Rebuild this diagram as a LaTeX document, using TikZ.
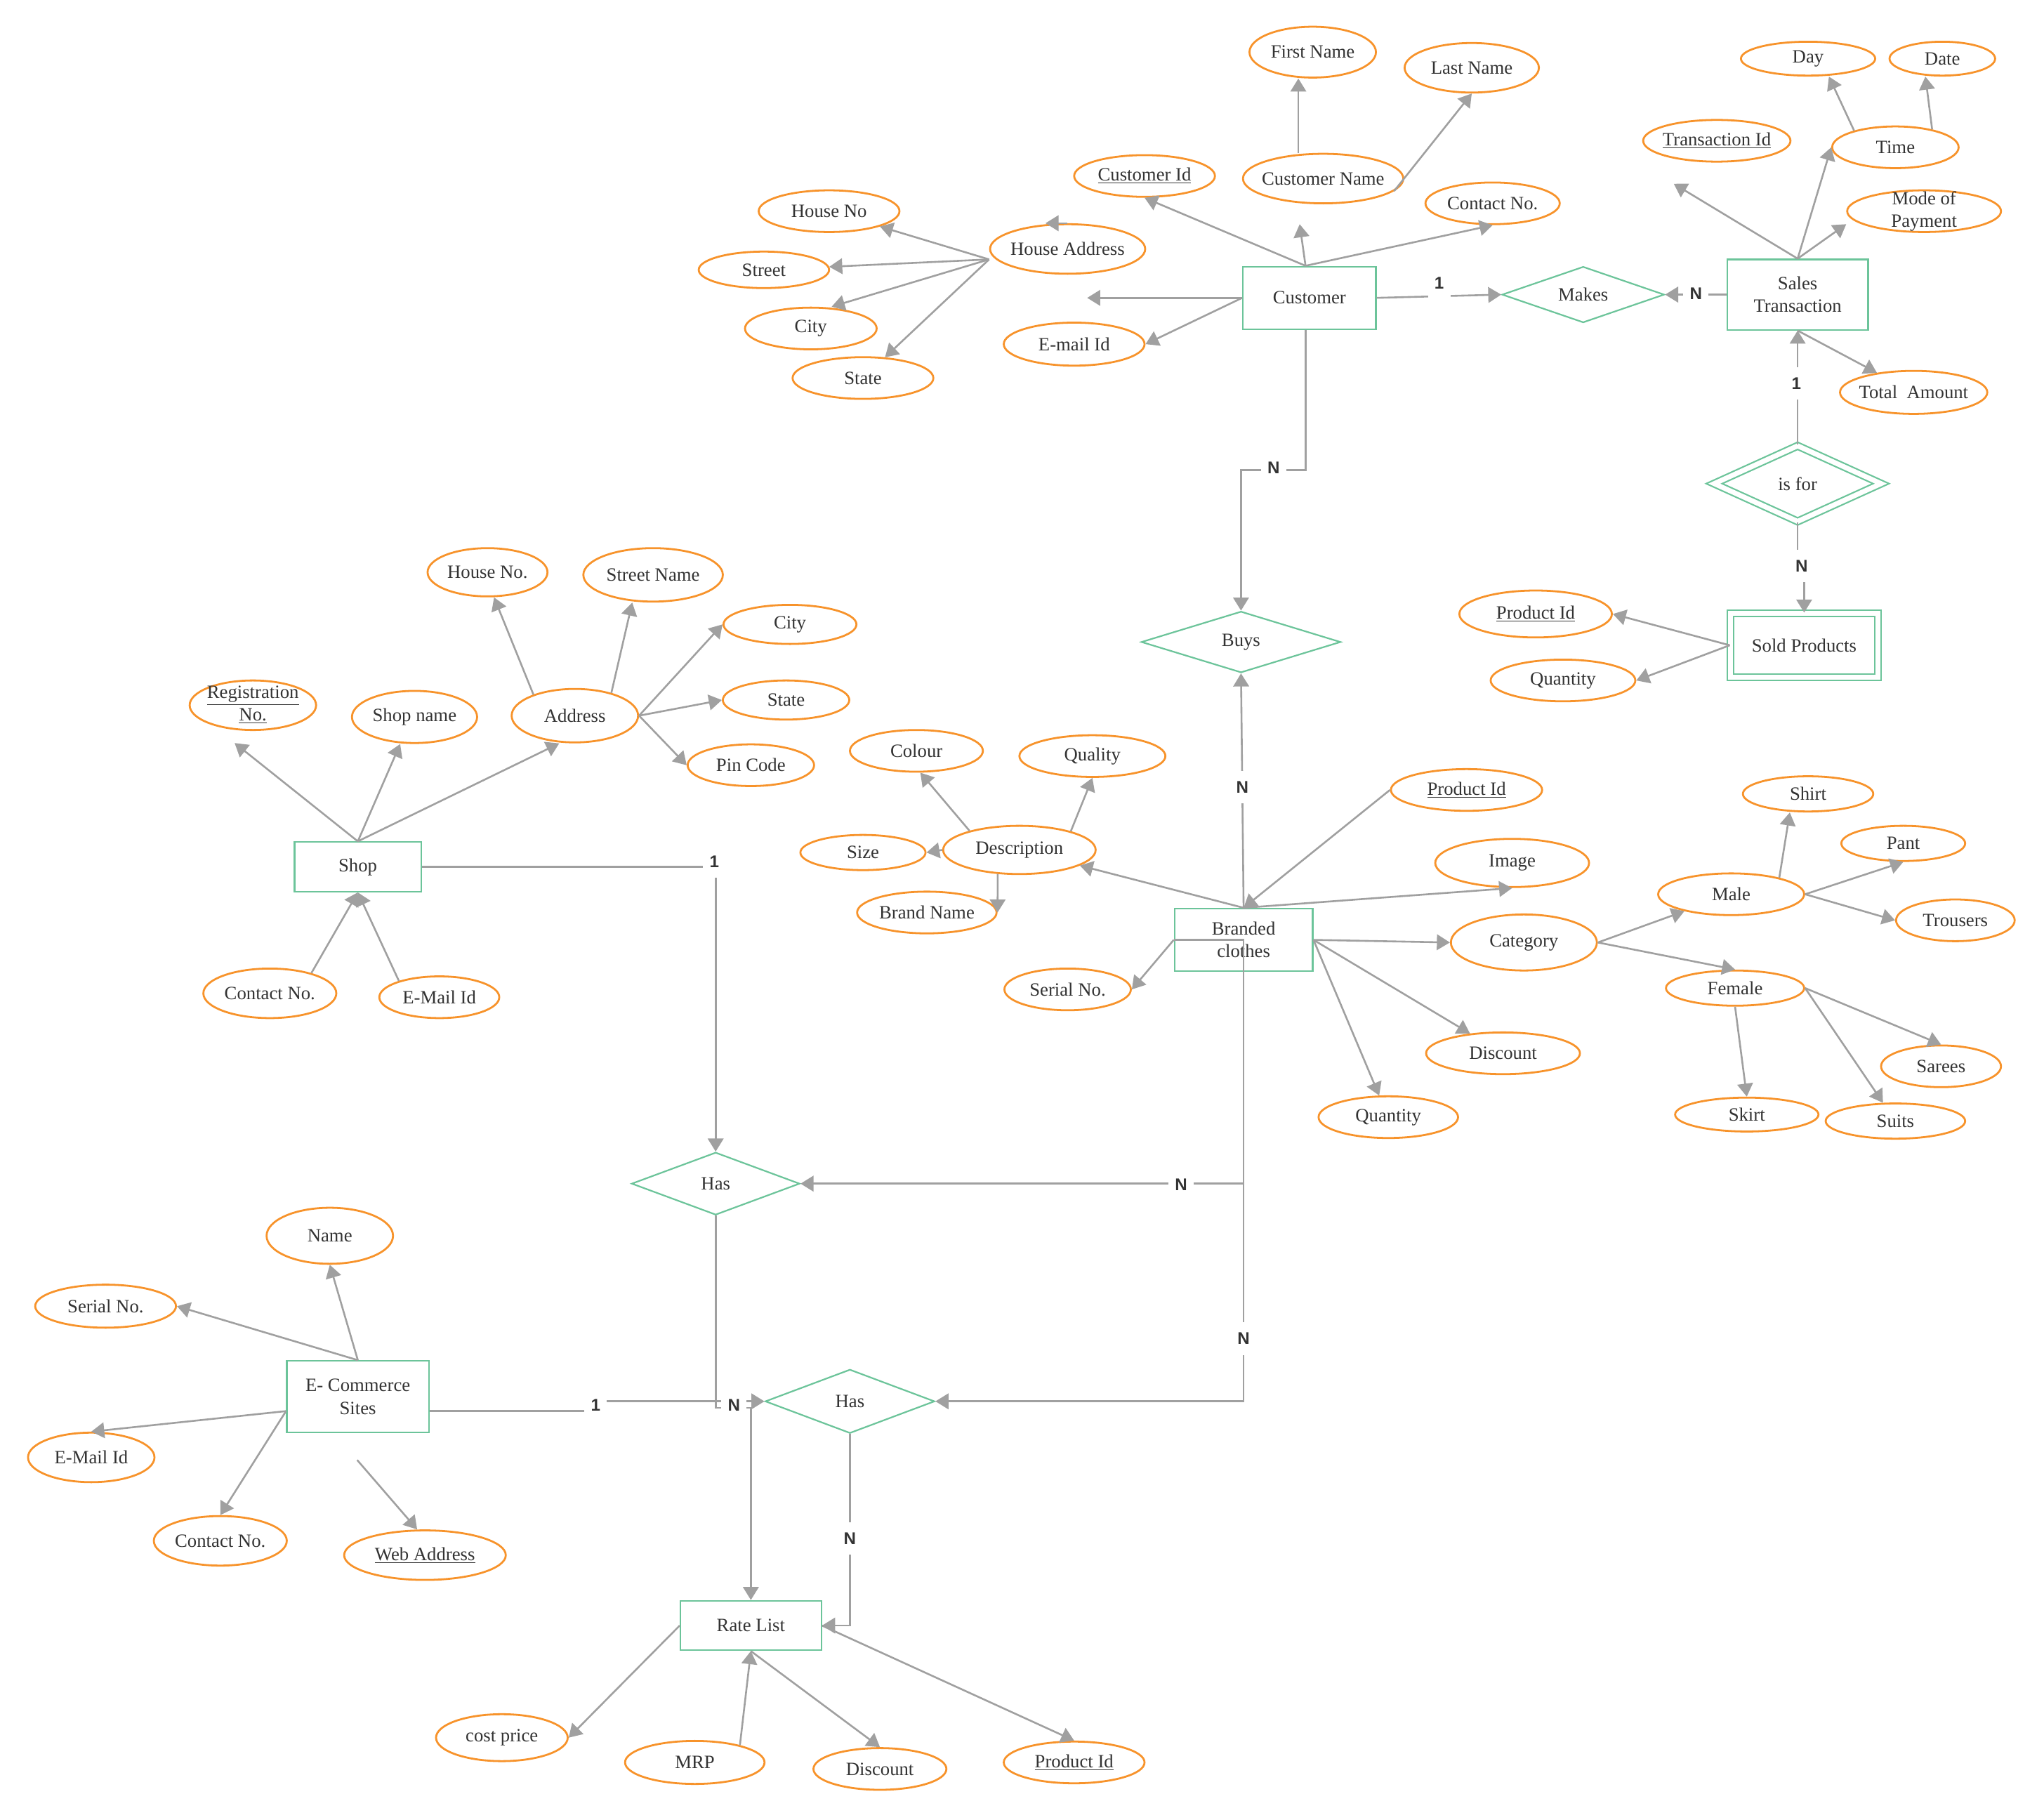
\documentclass[tikz,border=0pt]{standalone}
\usepackage{fontspec}
\setmainfont{Liberation Serif}
\setsansfont{Liberation Sans}
\usetikzlibrary{shapes.geometric,arrows.meta}

\definecolor{attrorange}{HTML}{F7932B}
\definecolor{entgreen}{HTML}{6CC49A}
\definecolor{linkgray}{HTML}{A0A0A0}
\definecolor{inkgray}{HTML}{333333}

% zero-size labels so that each shape keeps the size it is given
\newcommand\lb[1]{\makebox[0pt]{#1}}
\newcommand\lbb[2]{\smash{\raisebox{-3.6pt}{\makebox[0pt]{\begin{tabular}{@{}c@{}}#1\\#2\end{tabular}}}}}

\tikzset{
  txt/.style={text=inkgray, font=\fontsize{14.4}{17.3}\selectfont},
  attr/.style={txt, ellipse, draw=attrorange, line width=1.5pt, inner sep=0pt},
  ent/.style={txt, rectangle, draw=entgreen, line width=1.2pt, inner sep=0pt, align=center},
  rel/.style={txt, diamond, draw=entgreen, line width=1.2pt, inner sep=0pt},
  weak/.style={double=white, double distance=3.8pt},
  link/.style={draw=linkgray, line width=1.4pt, -{Triangle[length=10pt,width=12pt]}},
  card/.style={text=inkgray, fill=white, inner xsep=5pt, inner ysep=8pt,
               font=\sffamily\bfseries\fontsize{13}{13}\selectfont}
}

\begin{document}
\begin{tikzpicture}[x=1pt, y=-1pt]
\useasboundingbox (0,0) rectangle (1568,1396);

% ---------- Customer ----------
\node[ent, minimum width=102, minimum height=48] (cust) at (1004.5,228.5) {Customer};
\node[attr, minimum width=97, minimum height=39] (fname) at (1007,40) {\lb{First Name}};
\node[attr, minimum width=103, minimum height=38] (lname) at (1129,52) {\lb{Last Name}};
\node[attr, minimum width=123, minimum height=38] (cname) at (1015,137) {\lb{Customer Name}};
\node[attr, minimum width=108, minimum height=32] (cid) at (878,135) {\lb{\underline{Customer Id}}};
\node[attr, minimum width=103, minimum height=32] (ccontact) at (1145,156) {\lb{Contact No.}};
\node[attr, minimum width=119, minimum height=38] (haddr) at (819,191) {\lb{House Address}};
\node[attr, minimum width=108, minimum height=32] (hno) at (636,162) {\lb{House No}};
\node[attr, minimum width=100, minimum height=28] (street) at (586,207) {\lb{Street}};
\node[attr, minimum width=101, minimum height=32] (city) at (622,252) {\lb{City}};
\node[attr, minimum width=108, minimum height=32] (state) at (662,290) {\lb{State}};
\node[attr, minimum width=108, minimum height=33] (cmail) at (824,264) {\lb{E-mail Id}};

% ---------- Sales transaction ----------
\node[rel, minimum width=124.5, minimum height=43] (makes) at (1214.5,226) {\lb{Makes}};
\node[ent, minimum width=108, minimum height=54] (sales) at (1379,226) {Sales\\Transaction};
\node[attr, minimum width=113, minimum height=32] (tid) at (1317,108) {\lb{\underline{Transaction Id}}};
\node[attr, minimum width=97, minimum height=32] (time) at (1454,113) {\lb{Time}};
\node[attr, minimum width=103, minimum height=26] (day) at (1387,45) {\lb{Day}};
\node[attr, minimum width=81, minimum height=26] (date) at (1490,45) {\lb{Date}};
\node[attr, minimum width=118, minimum height=32] (mode) at (1476,162) {\lbb{Mode of}{Payment}};
\node[attr, minimum width=113, minimum height=33] (total) at (1468,301) {\lb{Total\ \ Amount}};
\node[rel, weak, minimum width=128.5, minimum height=58.5] (isfor) at (1379,371) {\lb{is for}};
\node[ent, weak, minimum width=113, minimum height=49] (sold) at (1384,495) {Sold Products};
\node[attr, minimum width=117, minimum height=36] (spid) at (1178,471) {\lb{\underline{Product Id}}};
\node[attr, minimum width=111, minimum height=32] (sqty) at (1199,522) {\lb{Quantity}};

% ---------- Branded clothes ----------
\node[rel, minimum width=153, minimum height=47] (buys) at (952,492.5) {\lb{Buys}};
\node[ent, minimum width=106, minimum height=48] (bc) at (954,721) {Branded\\clothes};
\node[attr, minimum width=117, minimum height=37] (desc) at (782,652) {\lb{Description}};
\node[attr, minimum width=102, minimum height=32] (colour) at (703,576) {\lb{Colour}};
\node[attr, minimum width=112, minimum height=32] (quality) at (838,580) {\lb{Quality}};
\node[attr, minimum width=96, minimum height=27] (size) at (662,654) {\lb{Size}};
\node[attr, minimum width=107, minimum height=32] (brand) at (711,700) {\lb{Brand Name}};
\node[attr, minimum width=97, minimum height=32] (serial) at (819,759) {\lb{Serial No.}};
\node[attr, minimum width=116, minimum height=32] (bpid) at (1125,606) {\lb{\underline{Product Id}}};
\node[attr, minimum width=118, minimum height=37] (image) at (1160,662) {\lb{Image}};
\node[attr, minimum width=112, minimum height=43] (cat) at (1169,723) {\lb{Category}};
\node[attr, minimum width=118, minimum height=32] (disc) at (1153,808) {\lb{Discount}};
\node[attr, minimum width=107, minimum height=32] (bqty) at (1065,857) {\lb{Quantity}};
\node[attr, minimum width=112, minimum height=32] (male) at (1328,686) {\lb{Male}};
\node[attr, minimum width=106, minimum height=27] (female) at (1331,758) {\lb{Female}};
\node[attr, minimum width=100, minimum height=27] (shirt) at (1387,609) {\lb{Shirt}};
\node[attr, minimum width=95, minimum height=27] (pant) at (1460,647) {\lb{Pant}};
\node[attr, minimum width=91, minimum height=32] (trousers) at (1500,706) {\lb{Trousers}};
\node[attr, minimum width=92, minimum height=32] (sarees) at (1489,818) {\lb{Sarees}};
\node[attr, minimum width=110, minimum height=26] (skirt) at (1340,855) {\lb{Skirt}};
\node[attr, minimum width=107, minimum height=27] (suits) at (1454,860) {\lb{Suits}};

% ---------- Shop ----------
\node[ent, minimum width=97, minimum height=38] (shop) at (274.5,665) {Shop};
\node[attr, minimum width=97, minimum height=38] (regno) at (194,541) {\lbb{\underline{Registration}}{\underline{No.}}};
\node[attr, minimum width=96, minimum height=40] (shopname) at (318,550) {\lb{Shop name}};
\node[attr, minimum width=97, minimum height=41] (address) at (441,549) {\lb{Address}};
\node[attr, minimum width=92, minimum height=37] (hno2) at (374,439) {\lb{House No.}};
\node[attr, minimum width=107, minimum height=41] (sname) at (501,441) {\lb{Street Name}};
\node[attr, minimum width=102, minimum height=30] (city2) at (606,479) {\lb{City}};
\node[attr, minimum width=97, minimum height=30] (state2) at (603,537) {\lb{State}};
\node[attr, minimum width=97, minimum height=32] (pin) at (576,587) {\lb{Pin Code}};
\node[attr, minimum width=102, minimum height=38] (contact2) at (207,762) {\lb{Contact No.}};
\node[attr, minimum width=92, minimum height=32] (email2) at (337,765) {\lb{E-Mail Id}};
\node[rel, minimum width=129, minimum height=48] (hasU) at (549,908) {\lb{Has}};

% ---------- E-commerce sites and rate list ----------
\node[ent, minimum width=109, minimum height=55] (ecom) at (274.5,1071.5) {E- Commerce\\Sites};
\node[attr, minimum width=97, minimum height=43] (ename) at (253,948) {\lb{Name}};
\node[attr, minimum width=108, minimum height=33] (serial2) at (81,1002) {\lb{Serial No.}};
\node[attr, minimum width=97, minimum height=38] (email3) at (70,1118) {\lb{E-Mail Id}};
\node[attr, minimum width=102, minimum height=38] (contact3) at (169,1182) {\lb{Contact No.}};
\node[attr, minimum width=124, minimum height=38] (web) at (326,1193) {\lb{\underline{Web Address}}};
\node[rel, minimum width=130, minimum height=49] (hasL) at (652,1075) {\lb{Has}};
\node[ent, minimum width=108, minimum height=38] (rl) at (576,1247) {Rate List};
\node[attr, minimum width=101, minimum height=36] (cost) at (385,1333) {\lb{cost price}};
\node[attr, minimum width=107, minimum height=33] (mrp) at (533,1352) {\lb{MRP}};
\node[attr, minimum width=102, minimum height=32] (rdisc) at (675,1357) {\lb{Discount}};
\node[attr, minimum width=108, minimum height=32] (rpid) at (824,1352) {\lb{\underline{Product Id}}};

% ---------- free ends and bends ----------
\coordinate (custTop) at ([xshift=-3pt]cust.north);
\coordinate (cnameTip) at (997,172);
\coordinate (custLeftTip) at (834,228.5);
\coordinate (haSrc) at ([yshift=-8pt]haddr.west);
\coordinate (tidTip) at (1284,141);
\coordinate (regTip) at (180,570);
\coordinate (webTail) at (274,1120);
\coordinate (buysBend) at (977,360.5);
\coordinate (soldBend) at (1382,434);
\coordinate (ecomBend) at (457,1080);
\coordinate (rlBend) at (563,1080);

% ---------- connectors ----------
\draw[link] (custTop) -- (cid.south);
\draw[link] (custTop) -- (cnameTip);
\draw[link] ([xshift=-19pt]cname.north) -- ([xshift=-11pt]fname.south);
\draw[link] (cname.-10) -- (lname.south);
\draw[link] (custTop) -- (ccontact.south);
\draw[link] (cust.west) -- (custLeftTip);
\draw[link] (cust.west) -- (cmail.east);
\draw[link] (haddr.north) -- ([xshift=-17pt]haddr.north);
\draw[link] (haSrc) -- (hno);
\draw[link] (haSrc) -- (street);
\draw[link] (haSrc) -- ([xshift=16pt]city.north);
\draw[link] (haSrc) -- (state);

\draw[link] (cust.east) -- (makes.west);
\draw[link] (sales.west) -- (makes.east);
\draw[link] (sales.north) -- (tidTip);
\draw[link] (sales.north) -- (time.west);
\draw[link] (sales.north) -- ([yshift=-10pt]mode.west);
\draw[link] (time.158) -- ([xshift=16pt]day.south);
\draw[link] (time.26) -- ([xshift=-13pt]date.south);
\draw[link] (sales.south) -- (total);
\draw[link] (isfor.north) -- (sales.south);
\draw[link] (isfor.south) -- (isfor.south |- soldBend) -| (sold.north);
\draw[link] (sold.west) -- (spid.east);
\draw[link] (sold.west) -- (sqty.east);

\draw[link] ([xshift=-3pt]cust.south) |- (buysBend) -| (buys.north);
\draw[link] (bc.north) -- (buys.south);
\draw[link] (bc.north) -- (desc);
\draw[link] (bpid.west) -- (bc.north);
\draw[link] (bc.north) -- (image.south);
\draw[link] (bc.east) -- (cat.west);
\draw[link] (bc.east) -- (disc);
\draw[link] (bc.east) -- (bqty);
\draw[link] (bc.west) -- (serial.east);
\draw[link] (desc.159) -- ([xshift=3pt]colour.south);
\draw[link] (desc.20) -- (quality.south);
\draw[link] (desc.west) -- (size.east);
\draw[link] (desc.228) -- (brand.east);
\draw[link] (cat.east) -- (male);
\draw[link] (cat.east) -- (female.north);
\draw[link] (male.19) -- ([xshift=-14pt]shirt.south);
\draw[link] (male.east) -- (pant.south);
\draw[link] (male.east) -- (trousers.west);
\draw[link] (female.east) -- (sarees.north);
\draw[link] (female.south) -- (skirt.north);
\draw[link] (female.east) -- (suits);
\draw[link] (bc.west) -- (bc.center) |- (hasU.east);
\draw[link] (bc.west) -- (bc.center) |- (hasL.east);

\draw[link] (shop.north) -- (regTip);
\draw[link] (shop.north) -- ([xshift=-11pt]shopname.south);
\draw[link] (shop.north) -- ([xshift=-12pt]address.south);
\draw[link] (address.153) -- ([xshift=5pt]hno2.south);
\draw[link] (address.32) -- ([xshift=-16pt]sname.south);
\draw[link] (address.east) -- (city2.west);
\draw[link] (address.east) -- (state2.west);
\draw[link] (address.east) -- (pin.west);
\draw[link] (contact2.26) -- (shop.south);
\draw[link] (email2.158) -- (shop.south);
\draw[link] (shop.east) -| (hasU.north);

\draw[link] (ecom.north) -- (ename.south);
\draw[link] (ecom.north) -- (serial2.east);
\draw[link] ([yshift=-11pt]ecom.west) -- (email3.north);
\draw[link] ([yshift=-11pt]ecom.west) -- (contact3.north);
\draw[link] (webTail) -- ([xshift=-6pt]web.north);
\draw[link] ([yshift=-11pt]ecom.east) -| (ecomBend) |- (hasL.west);
\draw[link] (hasU.south) |- (rlBend) -| (rl.north);
\draw[link] (hasL.south) |- (rl.east);
\draw[link] (rl.east) -- (rpid.north);
\draw[link] (rl.south) -- (rdisc.north);
\draw[link] (mrp.21) -- (rl.south);
\draw[link] (rl.west) -- (cost.east);

% ---------- cardinalities ----------
\node[card] (kMakesC) at (1104,217) {1};
\node[card] (kMakesS) at (1301,225) {N};
\node[card] (kIsforS) at (1378,294) {1};
\node[card] (kIsforP) at (1382,434) {N};
\node[card] (kBuysC) at (977,359) {N};
\node[card] (kBuysB) at (953,604) {N};
\node[card] (kHasUB) at (906,909) {N};
\node[card] (kHasLB) at (954,1027) {N};
\node[card] (kHasUS) at (548,661) {1};
\node[card] (kHasLE) at (457,1078) {1};
\node[card] (kRateU) at (563,1078) {N};
\node[card] (kRateL) at (652,1180) {N};
\end{tikzpicture}
\end{document}
